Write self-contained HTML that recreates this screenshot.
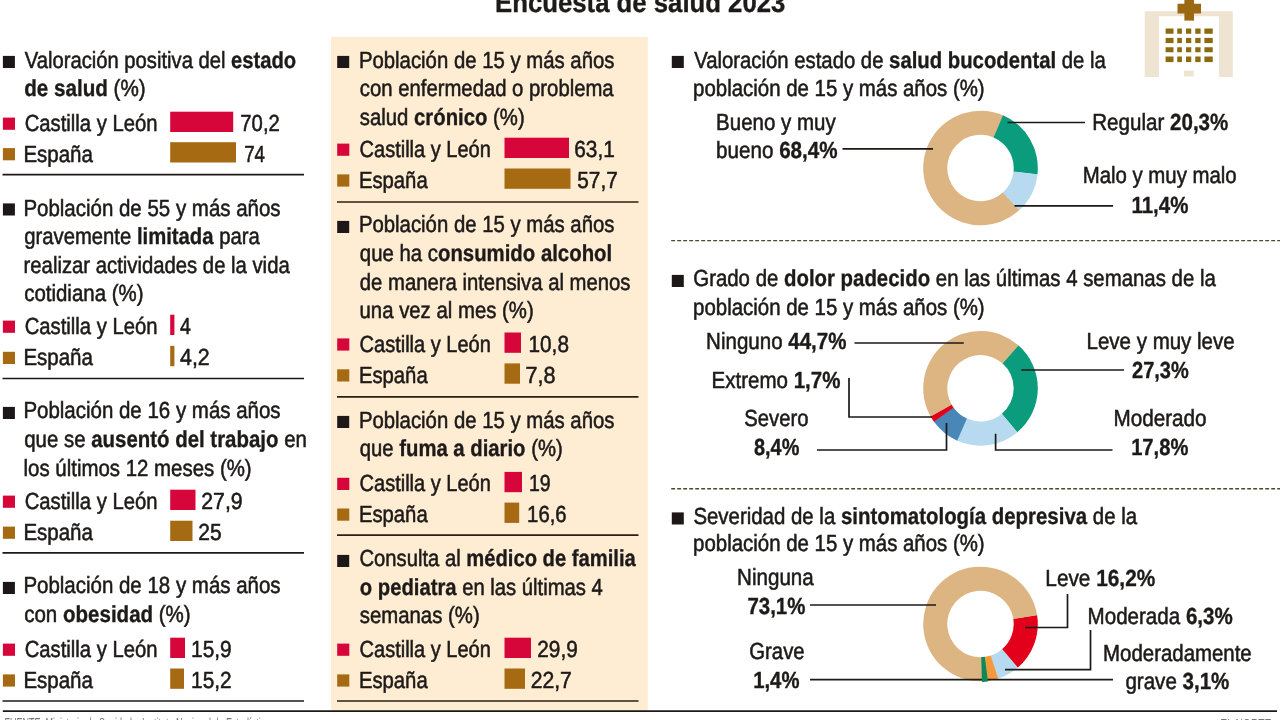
<!DOCTYPE html>
<html lang="es">
<head>
<meta charset="utf-8">
<title>Encuesta de salud 2023</title>
<style>
html,body{margin:0;padding:0;background:#fff;}
body{width:1280px;height:720px;overflow:hidden;position:relative;}
svg{position:absolute;left:0;top:0;display:block;}
text{font-family:"Liberation Sans",sans-serif;font-size:23.3px;fill:#1d1a19;white-space:pre;stroke:#1d1a19;stroke-width:0.55px;text-rendering:geometricPrecision;}
.f{stroke:none;}
.b{font-weight:bold;stroke-width:0.35px;}
</style>
</head>
<body>
<svg width="1280" height="720" viewBox="0 0 1280 720">
<rect x="0" y="0" width="1280" height="720" fill="#ffffff"/>
<rect x="331" y="36.8" width="316.8" height="674.2" fill="#feedd3"/>
<g id="bars">
<rect x="2.90" y="55.90" width="12.00" height="12.10" fill="#1d1817"/>
<rect x="2.90" y="203.40" width="12.00" height="12.10" fill="#1d1817"/>
<rect x="2.90" y="406.90" width="12.00" height="12.10" fill="#1d1817"/>
<rect x="2.90" y="581.90" width="12.00" height="12.10" fill="#1d1817"/>
<rect x="2.90" y="117.60" width="12.10" height="12.20" fill="#d6063b"/>
<rect x="170.20" y="111.70" width="63.00" height="20.30" fill="#d6063b"/>
<rect x="2.90" y="148.10" width="12.10" height="12.20" fill="#a56a12"/>
<rect x="170.20" y="142.20" width="65.80" height="20.30" fill="#a56a12"/>
<rect x="2.90" y="320.60" width="12.10" height="12.20" fill="#d6063b"/>
<rect x="170.20" y="314.70" width="4.20" height="20.30" fill="#d6063b"/>
<rect x="2.90" y="351.80" width="12.10" height="12.20" fill="#a56a12"/>
<rect x="170.20" y="345.90" width="4.20" height="20.30" fill="#a56a12"/>
<rect x="2.90" y="495.60" width="12.10" height="12.20" fill="#d6063b"/>
<rect x="170.20" y="489.70" width="25.30" height="20.30" fill="#d6063b"/>
<rect x="2.90" y="526.60" width="12.10" height="12.20" fill="#a56a12"/>
<rect x="170.20" y="520.70" width="22.30" height="20.30" fill="#a56a12"/>
<rect x="2.90" y="643.60" width="12.10" height="12.20" fill="#d6063b"/>
<rect x="170.20" y="637.70" width="14.80" height="20.30" fill="#d6063b"/>
<rect x="2.90" y="674.40" width="12.10" height="12.20" fill="#a56a12"/>
<rect x="170.20" y="668.50" width="13.80" height="20.30" fill="#a56a12"/>
<line x1="2.50" y1="174.60" x2="304.00" y2="174.60" stroke="#1c1917" stroke-width="1.70"/>
<line x1="2.50" y1="378.50" x2="304.00" y2="378.50" stroke="#1c1917" stroke-width="1.70"/>
<line x1="2.50" y1="552.90" x2="304.00" y2="552.90" stroke="#1c1917" stroke-width="1.70"/>
<line x1="2.50" y1="701.00" x2="304.00" y2="701.00" stroke="#1c1917" stroke-width="1.70"/>
<rect x="337.20" y="55.90" width="12.00" height="12.10" fill="#1d1817"/>
<rect x="337.20" y="220.90" width="12.00" height="12.10" fill="#1d1817"/>
<rect x="337.20" y="415.90" width="12.00" height="12.10" fill="#1d1817"/>
<rect x="337.20" y="554.90" width="12.00" height="12.10" fill="#1d1817"/>
<rect x="337.20" y="143.60" width="12.10" height="12.20" fill="#d6063b"/>
<rect x="504.50" y="137.70" width="64.50" height="20.30" fill="#d6063b"/>
<rect x="337.20" y="174.40" width="12.10" height="12.20" fill="#a56a12"/>
<rect x="504.50" y="168.50" width="66.00" height="20.30" fill="#a56a12"/>
<rect x="337.20" y="338.40" width="12.10" height="12.20" fill="#d6063b"/>
<rect x="504.50" y="332.50" width="16.50" height="20.30" fill="#d6063b"/>
<rect x="337.20" y="369.30" width="12.10" height="12.20" fill="#a56a12"/>
<rect x="504.50" y="363.40" width="15.50" height="20.30" fill="#a56a12"/>
<rect x="337.20" y="477.80" width="12.10" height="12.20" fill="#d6063b"/>
<rect x="504.50" y="471.90" width="17.50" height="20.30" fill="#d6063b"/>
<rect x="337.20" y="508.50" width="12.10" height="12.20" fill="#a56a12"/>
<rect x="504.50" y="502.60" width="14.70" height="20.30" fill="#a56a12"/>
<rect x="337.20" y="643.60" width="12.10" height="12.20" fill="#d6063b"/>
<rect x="504.50" y="637.70" width="26.50" height="20.30" fill="#d6063b"/>
<rect x="337.20" y="674.40" width="12.10" height="12.20" fill="#a56a12"/>
<rect x="504.50" y="668.50" width="20.50" height="20.30" fill="#a56a12"/>
<line x1="337.00" y1="202.00" x2="638.50" y2="202.00" stroke="#2a1f14" stroke-width="1.70"/>
<line x1="337.00" y1="396.80" x2="638.50" y2="396.80" stroke="#2a1f14" stroke-width="1.70"/>
<line x1="337.00" y1="535.20" x2="638.50" y2="535.20" stroke="#2a1f14" stroke-width="1.70"/>
<line x1="337.00" y1="701.00" x2="638.50" y2="701.00" stroke="#2a1f14" stroke-width="1.70"/>
<rect x="671.80" y="55.90" width="12.00" height="12.10" fill="#1d1817"/>
<rect x="671.80" y="274.90" width="12.00" height="12.10" fill="#1d1817"/>
<rect x="671.80" y="512.40" width="12.00" height="12.10" fill="#1d1817"/>
</g>
<g id="icon">
<rect x="1144.75" y="11.25" width="88.00" height="65.75" fill="#efe4d2"/>
<rect x="1159.00" y="16.25" width="60.00" height="61.75" fill="#fff"/>
<rect x="1184.00" y="70.60" width="9.75" height="5.90" fill="#efe4d2"/>
<rect x="1184.40" y="-2.00" width="9.60" height="22.60" fill="#9a6912"/>
<rect x="1177.50" y="3.75" width="23.50" height="9.75" fill="#9a6912"/>
<rect x="1165.60" y="28.50" width="7.90" height="5.25" fill="#8c6a12"/>
<rect x="1165.60" y="37.90" width="7.90" height="5.20" fill="#8c6a12"/>
<rect x="1165.60" y="47.25" width="7.90" height="5.00" fill="#8c6a12"/>
<rect x="1165.60" y="56.50" width="7.90" height="5.60" fill="#8c6a12"/>
<rect x="1177.25" y="28.50" width="4.65" height="5.25" fill="#8c6a12"/>
<rect x="1177.25" y="37.90" width="4.65" height="5.20" fill="#8c6a12"/>
<rect x="1177.25" y="47.25" width="4.65" height="5.00" fill="#8c6a12"/>
<rect x="1177.25" y="56.50" width="4.65" height="5.60" fill="#8c6a12"/>
<rect x="1186.00" y="28.50" width="5.25" height="5.25" fill="#8c6a12"/>
<rect x="1186.00" y="37.90" width="5.25" height="5.20" fill="#8c6a12"/>
<rect x="1186.00" y="47.25" width="5.25" height="5.00" fill="#8c6a12"/>
<rect x="1186.00" y="56.50" width="5.25" height="5.60" fill="#8c6a12"/>
<rect x="1195.25" y="28.50" width="5.35" height="5.25" fill="#8c6a12"/>
<rect x="1195.25" y="37.90" width="5.35" height="5.20" fill="#8c6a12"/>
<rect x="1195.25" y="47.25" width="5.35" height="5.00" fill="#8c6a12"/>
<rect x="1195.25" y="56.50" width="5.35" height="5.60" fill="#8c6a12"/>
<rect x="1204.40" y="28.50" width="8.35" height="5.25" fill="#8c6a12"/>
<rect x="1204.40" y="37.90" width="8.35" height="5.20" fill="#8c6a12"/>
<rect x="1204.40" y="47.25" width="8.35" height="5.00" fill="#8c6a12"/>
<rect x="1204.40" y="56.50" width="8.35" height="5.60" fill="#8c6a12"/>
</g>
<g id="charts">
<path d="M1019.43 210.04A57.30 57.30 0 1 1 1003.24 115.40L993.67 137.53A33.20 33.20 0 1 0 1003.06 192.36Z" fill="#dcb582"/>
<path d="M1002.96 115.29A57.30 57.30 0 0 1 1037.44 174.45L1013.49 171.74A33.20 33.20 0 0 0 993.51 137.46Z" fill="#0a9c7c"/>
<path d="M1037.47 174.15A57.30 57.30 0 0 1 1019.21 210.25L1002.93 192.48A33.20 33.20 0 0 0 1013.51 171.56Z" fill="#b7daf0"/>
<line x1="842.50" y1="148.80" x2="933.00" y2="148.80" stroke="#1c1917" stroke-width="1.70"/>
<line x1="1007.50" y1="122.50" x2="1085.00" y2="122.50" stroke="#1c1917" stroke-width="1.70"/>
<line x1="1014.50" y1="205.80" x2="1113.00" y2="205.80" stroke="#1c1917" stroke-width="1.70"/>
<path d="M1018.32 345.25A57.30 57.30 0 0 1 1017.15 432.35L1001.73 413.82A33.20 33.20 0 0 0 1002.41 363.36Z" fill="#0a9c7c"/>
<path d="M1017.38 432.16A57.30 57.30 0 0 1 956.90 440.52L966.83 418.55A33.20 33.20 0 0 0 1001.87 413.71Z" fill="#b7daf0"/>
<path d="M957.18 440.64A57.30 57.30 0 0 1 933.82 421.53L953.45 407.55A33.20 33.20 0 0 0 966.99 418.62Z" fill="#4a87b9"/>
<path d="M933.99 421.77A57.30 57.30 0 0 1 930.54 416.36L951.55 404.56A33.20 33.20 0 0 0 953.55 407.69Z" fill="#e3001b"/>
<path d="M930.69 416.62A57.30 57.30 0 0 1 1018.54 345.45L1002.54 363.47A33.20 33.20 0 0 0 951.64 404.71Z" fill="#dcb582"/>
<line x1="854.50" y1="343.00" x2="963.75" y2="343.00" stroke="#1c1917" stroke-width="1.70"/>
<line x1="1021.25" y1="370.00" x2="1124.00" y2="370.00" stroke="#1c1917" stroke-width="1.70"/>
<polyline points="849.00,378.00 849.00,417.00 932.00,417.00" fill="none" stroke="#1c1917" stroke-width="1.70"/>
<polyline points="817.00,450.00 946.50,450.00 946.50,423.00" fill="none" stroke="#1c1917" stroke-width="1.70"/>
<polyline points="995.60,433.75 995.60,450.00 1112.50,450.00" fill="none" stroke="#1c1917" stroke-width="1.70"/>
<path d="M1037.09 615.04A57.30 57.30 0 0 1 1017.62 667.65L1002.01 649.29A33.20 33.20 0 0 0 1013.29 618.81Z" fill="#e3001b"/>
<path d="M1017.85 667.45A57.30 57.30 0 0 1 997.92 678.59L990.59 655.63A33.20 33.20 0 0 0 1002.14 649.18Z" fill="#b7daf0"/>
<path d="M998.21 678.50A57.30 57.30 0 0 1 987.03 680.93L984.28 656.98A33.20 33.20 0 0 0 990.76 655.58Z" fill="#f39a3c"/>
<path d="M987.32 680.89A57.30 57.30 0 0 1 982.00 681.28L981.37 657.19A33.20 33.20 0 0 0 984.45 656.96Z" fill="#0a8a5a"/>
<path d="M982.30 681.27A57.30 57.30 0 1 1 1037.14 615.33L1013.32 618.98A33.20 33.20 0 1 0 981.54 657.18Z" fill="#dcb582"/>
<line x1="810.00" y1="605.00" x2="936.00" y2="605.00" stroke="#1c1917" stroke-width="1.70"/>
<polyline points="1025.00,627.50 1067.50,627.50 1067.50,594.00" fill="none" stroke="#1c1917" stroke-width="1.70"/>
<polyline points="1005.00,669.60 1090.50,669.60 1090.50,630.00" fill="none" stroke="#1c1917" stroke-width="1.70"/>
<line x1="810.00" y1="679.70" x2="1113.00" y2="679.70" stroke="#1c1917" stroke-width="1.70"/>
<path d="M987.96 681.42A57.90 57.90 0 0 1 981.91 681.88L981.30 656.89A32.90 32.90 0 0 0 984.74 656.63Z" fill="#0a8a5a"/>
<line x1="671.2" y1="240.6" x2="1280" y2="240.6" stroke="#4d4929" stroke-width="1.4" stroke-dasharray="3.9 2.1"/>
<line x1="671.2" y1="488.8" x2="1280" y2="488.8" stroke="#4d4929" stroke-width="1.4" stroke-dasharray="3.9 2.1"/>
</g>
<line x1="2.8" y1="711.1" x2="1277" y2="711.1" stroke="#1c1917" stroke-width="1.9"/>
<g id="labels">
<text transform="translate(24.78 67.50) scale(0.8673 1)">Valoración positiva del <tspan class="b">estado</tspan></text>
<text transform="translate(24.20 95.70) scale(0.8853 1)"><tspan class="b">de salud</tspan> (%)</text>
<text transform="translate(24.65 131.00) scale(0.8688 1)">Castilla y León</text>
<text transform="translate(240.31 131.00) scale(0.8712 1)">70,2</text>
<text transform="translate(23.38 161.50) scale(0.8797 1)">España</text>
<text transform="translate(244.19 161.50) scale(0.8017 1)">74</text>
<text transform="translate(23.39 215.60) scale(0.8787 1)">Población de 55 y más años</text>
<text transform="translate(24.20 244.00) scale(0.8703 1)">gravemente <tspan class="b">limitada</tspan> para</text>
<text transform="translate(23.57 272.60) scale(0.8708 1)">realizar actividades de la vida</text>
<text transform="translate(24.20 301.00) scale(0.8773 1)">cotidiana (%)</text>
<text transform="translate(24.65 334.00) scale(0.8688 1)">Castilla y León</text>
<text transform="translate(180.00 334.00) scale(0.8369 1)">4</text>
<text transform="translate(23.38 365.20) scale(0.8797 1)">España</text>
<text transform="translate(180.00 365.20) scale(0.9187 1)">4,2</text>
<text transform="translate(23.39 418.00) scale(0.8787 1)">Población de 16 y más años</text>
<text transform="translate(24.20 447.30) scale(0.8767 1)">que se <tspan class="b">ausentó del trabajo</tspan> en</text>
<text transform="translate(23.58 475.50) scale(0.8765 1)">los últimos 12 meses (%)</text>
<text transform="translate(24.65 509.00) scale(0.8688 1)">Castilla y León</text>
<text transform="translate(201.25 509.00) scale(0.9134 1)">27,9</text>
<text transform="translate(23.38 540.00) scale(0.8797 1)">España</text>
<text transform="translate(198.26 540.00) scale(0.9024 1)">25</text>
<text transform="translate(23.39 593.00) scale(0.8787 1)">Población de 18 y más años</text>
<text transform="translate(24.20 622.00) scale(0.8808 1)">con <tspan class="b">obesidad</tspan> (%)</text>
<text transform="translate(24.65 657.00) scale(0.8688 1)">Castilla y León</text>
<text transform="translate(191.10 657.00) scale(0.8944 1)">15,9</text>
<text transform="translate(23.38 687.50) scale(0.8797 1)">España</text>
<text transform="translate(191.10 687.50) scale(0.8957 1)">15,2</text>
<text transform="translate(358.91 67.50) scale(0.8730 1)">Población de 15 y más años</text>
<text transform="translate(359.82 96.00) scale(0.8711 1)">con enfermedad o problema</text>
<text transform="translate(359.76 124.50) scale(0.8724 1)">salud <tspan class="b">crónico</tspan> (%)</text>
<text transform="translate(359.54 157.40) scale(0.8592 1)">Castilla y León</text>
<text transform="translate(574.23 157.40) scale(0.8933 1)">63,1</text>
<text transform="translate(358.92 188.30) scale(0.8699 1)">España</text>
<text transform="translate(577.30 188.30) scale(0.8923 1)">57,7</text>
<text transform="translate(358.91 232.00) scale(0.8730 1)">Población de 15 y más años</text>
<text transform="translate(359.81 261.00) scale(0.8741 1)">que ha c<tspan class="b">onsumido alcohol</tspan></text>
<text transform="translate(359.81 289.50) scale(0.8709 1)">de manera intensiva al menos</text>
<text transform="translate(359.53 318.00) scale(0.8733 1)">una vez al mes (%)</text>
<text transform="translate(359.54 351.80) scale(0.8592 1)">Castilla y León</text>
<text transform="translate(528.51 351.80) scale(0.8916 1)">10,8</text>
<text transform="translate(358.92 382.90) scale(0.8699 1)">España</text>
<text transform="translate(525.42 382.90) scale(0.9279 1)">7,8</text>
<text transform="translate(358.91 427.50) scale(0.8730 1)">Población de 15 y más años</text>
<text transform="translate(359.81 456.00) scale(0.8705 1)">que <tspan class="b">fuma a diario</tspan> (%)</text>
<text transform="translate(359.54 491.00) scale(0.8592 1)">Castilla y León</text>
<text transform="translate(528.89 491.00) scale(0.8392 1)">19</text>
<text transform="translate(358.92 521.60) scale(0.8699 1)">España</text>
<text transform="translate(527.12 521.60) scale(0.8701 1)">16,6</text>
<text transform="translate(359.53 566.30) scale(0.8673 1)">Consulta al <tspan class="b">médico de familia</tspan></text>
<text transform="translate(359.81 594.90) scale(0.8690 1)"><tspan class="b">o pediatra</tspan> en las últimas 4</text>
<text transform="translate(359.76 623.40) scale(0.8737 1)">semanas (%)</text>
<text transform="translate(359.54 657.00) scale(0.8592 1)">Castilla y León</text>
<text transform="translate(537.27 657.00) scale(0.8929 1)">29,9</text>
<text transform="translate(358.92 687.50) scale(0.8699 1)">España</text>
<text transform="translate(530.65 687.50) scale(0.9093 1)">22,7</text>
<text transform="translate(694.15 67.70) scale(0.8717 1)">Valoración estado de <tspan class="b">salud bucodental</tspan> de la</text>
<text transform="translate(693.12 96.20) scale(0.8760 1)">población de 15 y más años (%)</text>
<text transform="translate(716.12 129.70) scale(0.8793 1)">Bueno y muy</text>
<text transform="translate(716.12 158.10) scale(0.8844 1)">bueno <tspan class="b">68,4%</tspan></text>
<text transform="translate(1092.23 129.70) scale(0.8831 1)">Regular <tspan class="b">20,3%</tspan></text>
<text transform="translate(1082.66 183.10) scale(0.8748 1)">Malo y muy malo</text>
<text transform="translate(1131.39 212.60) scale(0.8798 1)"><tspan class="b">11,4%</tspan></text>
<text transform="translate(693.29 286.00) scale(0.8753 1)">Grado de <tspan class="b">dolor padecido</tspan> en las últimas 4 semanas de la</text>
<text transform="translate(693.12 314.50) scale(0.8760 1)">población de 15 y más años (%)</text>
<text transform="translate(706.12 348.50) scale(0.8809 1)">Ninguno <tspan class="b">44,7%</tspan></text>
<text transform="translate(711.55 387.50) scale(0.8808 1)">Extremo <tspan class="b">1,7%</tspan></text>
<text transform="translate(744.34 425.50) scale(0.8694 1)">Severo</text>
<text transform="translate(754.00 454.50) scale(0.8543 1)"><tspan class="b">8,4%</tspan></text>
<text transform="translate(1086.55 348.50) scale(0.8799 1)">Leve y muy leve</text>
<text transform="translate(1132.00 377.50) scale(0.8592 1)"><tspan class="b">27,3%</tspan></text>
<text transform="translate(1113.49 425.50) scale(0.8874 1)">Moderado</text>
<text transform="translate(1131.14 454.50) scale(0.8658 1)"><tspan class="b">17,8%</tspan></text>
<text transform="translate(693.38 523.50) scale(0.8763 1)">Severidad de la <tspan class="b">sintomatología depresiva</tspan> de la</text>
<text transform="translate(693.12 551.40) scale(0.8760 1)">población de 15 y más años (%)</text>
<text transform="translate(737.11 585.30) scale(0.8831 1)">Ninguna</text>
<text transform="translate(747.48 613.90) scale(0.8757 1)"><tspan class="b">73,1%</tspan></text>
<text transform="translate(749.29 658.50) scale(0.8721 1)">Grave</text>
<text transform="translate(753.13 687.50) scale(0.8724 1)"><tspan class="b">1,4%</tspan></text>
<text transform="translate(1045.31 586.00) scale(0.8932 1)">Leve <tspan class="b">16,2%</tspan></text>
<text transform="translate(1087.55 624.20) scale(0.8832 1)">Moderada <tspan class="b">6,3%</tspan></text>
<text transform="translate(1103.12 660.50) scale(0.8758 1)">Moderadamente</text>
<text transform="translate(1125.40 689.40) scale(0.8825 1)">grave <tspan class="b">3,1%</tspan></text>
<text transform="translate(495.08 11.90) scale(0.9187 1)" style="font-size:28px;"><tspan class="b">Encuesta de salud 2023</tspan></text>
<text class="f" transform="translate(4.38 728.40) scale(0.6210 1)" style="font-size:14.5px;fill:#777;">FUENTE: Ministerio de Sanidad e Instituto Nacional de Estadística.</text>
<text class="f" transform="translate(1220.29 728.60) scale(0.7125 1)" style="font-size:14.5px;fill:#777;">EL NORTE</text>
</g>
</svg>
</body>
</html>
